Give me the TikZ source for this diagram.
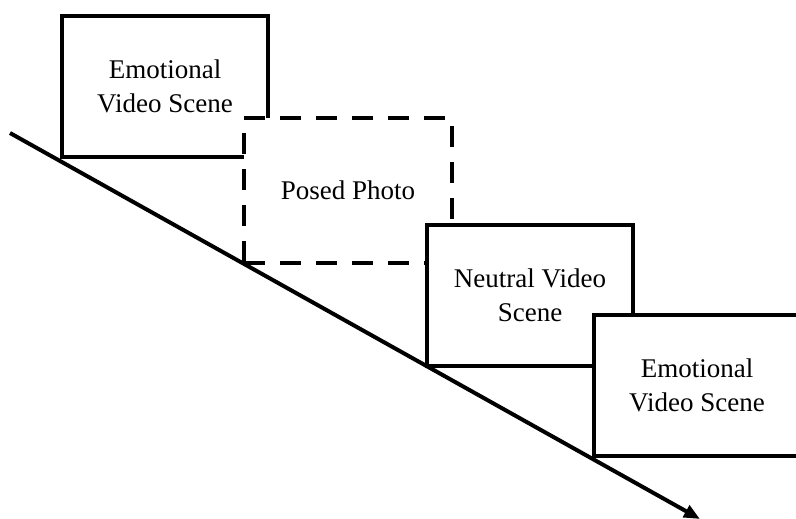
\documentclass[tikz,border=0pt]{standalone}
\usepackage{fontspec}
\setmainfont{Liberation Serif}
\usetikzlibrary{arrows.meta}

\begin{document}
\begin{tikzpicture}[x=1pt, y=-1pt, every node/.style={font=\fontsize{27}{34}\selectfont},
  scene/.style={draw, line width=4pt, fill=white, align=center, inner sep=0pt, minimum width=206pt, minimum height=141pt},
  photo/.style={scene, dash pattern=on 21pt off 15pt, minimum width=208pt, minimum height=145pt},
  arr/.style={-{Triangle[length=16pt, width=13pt]}, line width=4pt}]
\useasboundingbox (0,0) rectangle (796,519);
\coordinate (start) at (10,133);
\coordinate (finish) at (700,519);
\draw[arr] (start) -- (finish);
\node[scene] (emo1) at (165,86.5) {Emotional\\Video Scene};
\node[photo] (posed) at (348,190.5) {Posed Photo};
\node[scene] (neutral) at (530,295) {Neutral Video\\Scene};
\node[scene] (emo2) at (697,385.5) {Emotional\\Video Scene};
\end{tikzpicture}
\end{document}
